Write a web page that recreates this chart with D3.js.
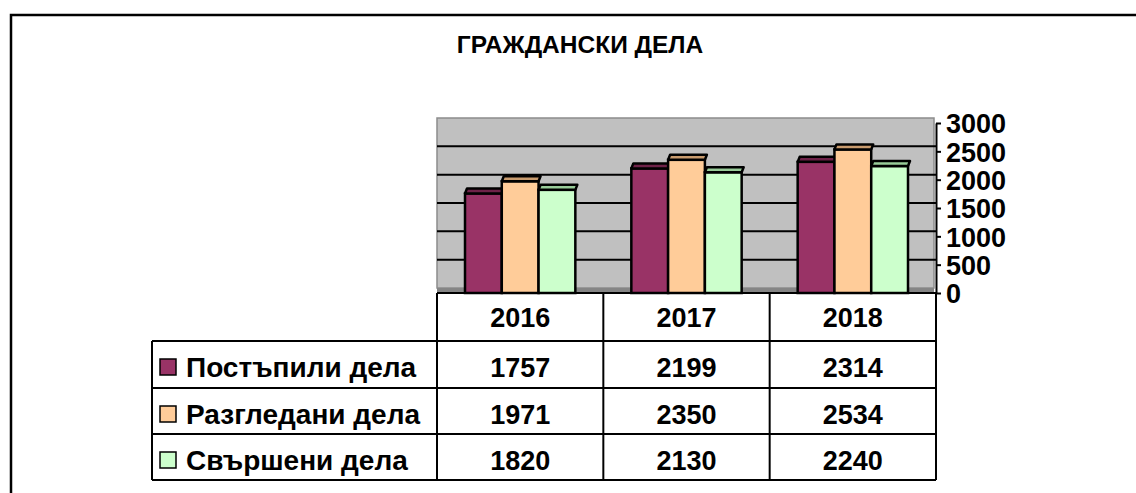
<!DOCTYPE html>
<html>
<head>
<meta charset="utf-8">
<script src="https://cdn.jsdelivr.net/npm/d3@7"></script>
<style>
    body { margin: 0; background: #fff; }
    text { font-family: "Liberation Sans", Arial, sans-serif; font-weight: bold; fill: #000; }
</style>
</head>
<body>
<div id="chart-container"></div>
<script>
//data
var titleText = 'ГРАЖДАНСКИ ДЕЛА';
var years = ['2016', '2017', '2018'];
var seriesNames = ['Постъпили дела', 'Разгледани дела', 'Свършени дела'];
var receivedCases = [1757, 2199, 2314];
var reviewedCases = [1971, 2350, 2534];
var completedCases = [1820, 2130, 2240];
var yTickValues = [0, 500, 1000, 1500, 2000, 2500, 3000];

var seriesValues = [receivedCases, reviewedCases, completedCases];
var seriesColors = ['#993366', '#FFCC99', '#CCFFCC'],
    seriesTopColors = ['#6E2248', '#C89B6E', '#99CC99'];

//sizes
var outerW = 1136,
    outerH = 493;

var plot = {left: 437, right: 936, top: 123, bottom: 293},
    depthX = 2,
    depthY = 5;

var rowEdges = [293, 341, 388, 434, 480],
    legendLeft = 152;

//containers
var svg = d3.select('#chart-container').append('svg')
    .attr('width', outerW)
    .attr('height', outerH);

//scales
var xScale = d3.scaleBand().domain(years).range([plot.left, plot.right]),
    xInner = d3.scaleBand().domain(d3.range(seriesNames.length))
        .range([28, xScale.bandwidth() - 28]),
    yScale = d3.scaleLinear().domain([0, 3000]).range([plot.bottom, plot.top]);

//outer frame
svg.append('path')
    .attr('d', 'M11,' + outerH + 'V15H' + outerW)
    .attr('fill', 'none')
    .attr('stroke', '#000')
    .attr('stroke-width', 2.5);

svg.append('text')
    .attr('x', 580)
    .attr('y', 53)
    .attr('text-anchor', 'middle')
    .style('font-size', '24.5px')
    .text(titleText);

//back wall + floor
svg.append('rect')
    .attr('x', plot.left)
    .attr('y', yScale(3000) - depthY)
    .attr('width', plot.right - plot.left - 2)
    .attr('height', plot.bottom - plot.top)
    .attr('fill', '#C0C0C0')
    .attr('stroke', '#8C8C8C')
    .attr('stroke-width', 1.5);

svg.append('rect')
    .attr('x', plot.left)
    .attr('y', plot.bottom - depthY)
    .attr('width', plot.right - plot.left - 2)
    .attr('height', depthY)
    .attr('fill', '#858585');

svg.selectAll('.grid-line')
    .data(yTickValues.filter(function(d) { return d > 0 && d < 3000; }))
    .enter()
    .append('line')
    .attr('class', 'grid-line')
    .attr('x1', plot.left)
    .attr('x2', plot.right)
    .attr('y1', function(d) { return yScale(d) - depthY; })
    .attr('y2', function(d) { return yScale(d) - depthY; })
    .attr('stroke', '#000')
    .attr('stroke-width', 2);

//bars
years.forEach(function(year, i) {
    var groupG = svg.append('g')
        .attr('transform', 'translate(' + xScale(year) + ',0)');

    seriesValues.forEach(function(values, s) {
        var x0 = xInner(s),
            x1 = x0 + xInner.bandwidth(),
            yTop = yScale(values[i]);

        groupG.append('rect')
            .attr('class', 'bar')
            .attr('x', x0)
            .attr('y', yTop)
            .attr('width', x1 - x0)
            .attr('height', plot.bottom - yTop)
            .attr('fill', seriesColors[s])
            .attr('stroke', '#000')
            .attr('stroke-width', 2.5);

        groupG.append('path')
            .attr('d', 'M' + x0 + ',' + yTop + 'L' + (x0 + depthX) + ',' + (yTop - depthY) +
                'H' + (x1 + depthX) + 'L' + x1 + ',' + yTop + 'Z')
            .attr('fill', seriesTopColors[s])
            .attr('stroke', '#000')
            .attr('stroke-width', 2.5)
            .attr('stroke-linejoin', 'round');
    });
});

//axis
var yAxis = d3.axisRight(yScale)
    .tickValues(yTickValues)
    .tickFormat(d3.format('d'))
    .tickSize(5)
    .tickPadding(5)
    .tickSizeOuter(0);

var axisG = svg.append('g')
    .attr('transform', 'translate(' + plot.right + ',0)')
    .call(yAxis);

axisG.select('.domain').attr('stroke', '#000').attr('stroke-width', 2);
axisG.selectAll('.tick line').attr('stroke', '#000').attr('stroke-width', 2);
axisG.selectAll('.tick text')
    .attr('font-family', null)
    .style('font-size', '27px')
    .attr('dy', '0.36em');

//data table
var tableG = svg.append('g').attr('class', 'data-table');

tableG.selectAll('.h-line')
    .data(rowEdges)
    .enter()
    .append('line')
    .attr('x1', function(d, i) { return i == 0 ? plot.left : legendLeft; })
    .attr('x2', plot.right)
    .attr('y1', function(d) { return d; })
    .attr('y2', function(d) { return d; })
    .attr('stroke', '#000')
    .attr('stroke-width', 2);

var vLines = years.map(function(y) { return xScale(y); }).concat([plot.right]);

tableG.selectAll('.v-line')
    .data(vLines)
    .enter()
    .append('line')
    .attr('x1', function(d) { return d; })
    .attr('x2', function(d) { return d; })
    .attr('y1', rowEdges[0])
    .attr('y2', rowEdges[4])
    .attr('stroke', '#000')
    .attr('stroke-width', 2);

tableG.append('line')
    .attr('x1', legendLeft)
    .attr('x2', legendLeft)
    .attr('y1', rowEdges[1])
    .attr('y2', rowEdges[4])
    .attr('stroke', '#000')
    .attr('stroke-width', 2);

//year headers
tableG.selectAll('.year-label')
    .data(years)
    .enter()
    .append('text')
    .attr('x', function(d) { return xScale(d) + xScale.bandwidth() / 2; })
    .attr('y', 327)
    .attr('text-anchor', 'middle')
    .style('font-size', '27px')
    .text(function(d) { return d; });

//rows
var rowBaselines = [377, 424, 470];

seriesNames.forEach(function(name, s) {
    var baseY = rowBaselines[s];

    tableG.append('rect')
        .attr('x', 160)
        .attr('y', baseY - 18)
        .attr('width', 16)
        .attr('height', 16)
        .attr('fill', seriesColors[s])
        .attr('stroke', '#000')
        .attr('stroke-width', 1.5);

    tableG.append('text')
        .attr('x', 186)
        .attr('y', baseY)
        .style('font-size', '28px')
        .text(name);

    tableG.selectAll('.val-' + s)
        .data(seriesValues[s])
        .enter()
        .append('text')
        .attr('x', function(d, i) { return xScale(years[i]) + xScale.bandwidth() / 2; })
        .attr('y', baseY)
        .attr('text-anchor', 'middle')
        .style('font-size', '27px')
        .text(function(d) { return d; });
});
</script>
</body>
</html>
